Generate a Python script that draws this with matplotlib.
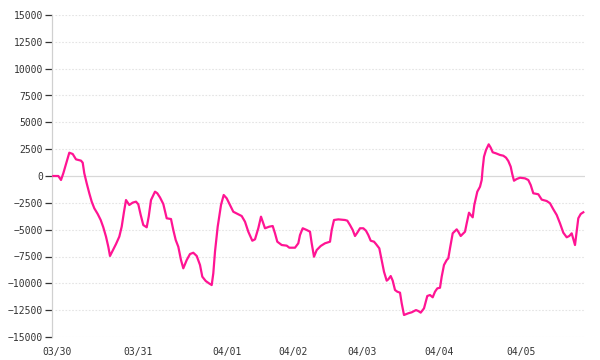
import matplotlib
matplotlib.use("Agg")
import matplotlib.pyplot as plt

# position along the series (sample offset) and value
t = [0.3, 5.3, 8, 10.3, 13.7, 16.3, 19.7, 23, 28, 29.7, 31.3, 33.7, 36.3, 38.7, 41.3, 44.7,
     47.7, 50.3, 53, 55.3, 57, 59.7, 63, 66.3, 68.7, 71, 73, 76.3, 79.7, 83, 85.3, 87.7,
     90.3, 93.7, 95.7, 98, 102, 104.3, 107, 110.3, 113.7, 118, 120.3, 122.7, 125.3, 128,
     130.3, 133.7, 137, 140.3, 143.7, 147, 149.3, 152.7, 156, 158.7, 160.3, 162, 164.7,
     168, 170.7, 173.7, 177, 180.3, 184.7, 188.7, 192, 195.3, 199.3, 202, 205.3, 208,
     212, 216.3, 219.7, 222, 224.3, 228.7, 233.7, 236.3, 242, 245.3, 247, 249.7, 253.7,
     257, 258.7, 261, 263.7, 267.7, 272, 277, 278.7, 281, 285.3, 292, 294.3, 297, 299.7,
     302, 304.3, 307, 310.3, 313, 315.3, 317.7, 321, 323, 326.3, 328.7, 331, 333.7, 335.3,
     337.7, 339.7, 342, 344.3, 347, 348.7, 351, 355.3, 358.7, 363, 365.3, 367.7, 371,
     374.3, 377, 379.7, 382, 384.3, 387, 388.7, 391, 393.7, 395.3, 397, 399.7, 403.7,
     405.3, 407.7, 412, 413.7, 416, 417.7, 419.7, 421.3, 424.3, 427, 428.7, 429.7, 431,
     433, 435.7, 437.7, 439.7, 443, 447, 450.3, 453, 455.3, 457.7, 459.3, 461, 463.7, 467,
     472, 475.3, 477.7, 480.3, 485.3, 488.7, 493.7, 497, 500.3, 503.7, 507, 510.3, 513.7,
     516.3, 518.7, 522, 525.3, 527.7, 530.3]
values = [0, 0, -370, 250, 1330, 2170, 2050, 1550, 1430, 1240, 250, -680, -1610, -2390,
          -3010, -3540, -4100, -4780, -5650, -6590, -7450, -6960, -6340, -5650, -4720,
          -3330, -2240, -2700, -2480, -2390, -2640, -3630, -4570, -4780, -3790, -2240,
          -1460, -1610, -2000, -2610, -3940, -4010, -5030, -5960, -6590, -7830, -8600,
          -7830, -7270, -7150, -7450, -8290, -9380, -9780, -10000, -10160, -9070, -7050,
          -4720, -2700, -1770, -2080, -2700, -3330, -3540, -3730, -4260, -5190, -6030,
          -5900, -4870, -3790, -4870, -4720, -4660, -5340, -6120, -6430, -6490, -6680,
          -6680, -6270, -5500, -4870, -5030, -5190, -6270, -7520, -6900, -6520, -6270,
          -6120, -5030, -4100, -4040, -4100, -4160, -4570, -5030, -5590, -5280, -4870,
          -4870, -5100, -5500, -6030, -6120, -6340, -6740, -7830, -8920, -9750, -9630,
          -9320, -9750, -10620, -10780, -10870, -11860, -12950, -12790, -12700, -12490,
          -12580, -12730, -12330, -11180, -11090, -11300, -10780, -10470, -10410, -9380,
          -8290, -7830, -7670, -6740, -5340, -4970, -5190, -5590, -5190, -4410, -3420,
          -3630, -3850, -2700, -1460, -1000, -373, 720, 1800, 2420, 2950, 2640, 2210,
          2110, 1960, 1890, 1710, 1400, 870, 160, -440, -280, -160, -220, -373, -840,
          -1610, -1700, -2200, -2330, -2540, -3100, -3630, -4410, -5280, -5710, -5590,
          -5340, -6430, -3940, -3540, -3380]

tick_pos = [4.5, 85, 174, 240, 309.5, 386.5, 468]
tick_labels = ["03/30", "03/31", "04/01", "04/02", "04/03", "04/04", "04/05"]
y_ticks = [15000, 12500, 10000, 7500, 5000, 2500, 0, -2500, -5000, -7500, -10000, -12500, -15000]

W, H = 600, 360
fig = plt.figure(figsize=(W / 100, H / 100), dpi=100)
ax = fig.add_axes([52 / W, 1 - 337 / H, (585 - 52) / W, (337 - 15) / H])

ax.set_xlim(-1, 532)
ax.set_ylim(-15000, 15000)

for yv in y_ticks:
    if yv != 0:
        ax.axhline(yv, xmin=0.005, xmax=1.0, color="#e4e4e4", lw=0.8,
                   linestyle=(0, (1.5, 1.5)), zorder=1)
ax.axhline(0, color="#d8d8d8", lw=0.9, zorder=1)

ax.plot(t, values, color="#ff1493", lw=1.6, zorder=3, solid_joinstyle="round")

for s in ["top", "right", "bottom"]:
    ax.spines[s].set_visible(False)
ax.spines["left"].set_color("#d0d0d0")
ax.spines["left"].set_linewidth(0.9)

font = {"family": "DejaVu Sans Mono", "size": 7, "color": "#333333"}
ax.set_yticks(y_ticks)
ax.set_yticklabels([str(v).replace("-", "\u2212") for v in y_ticks], fontdict=font)
ax.set_xticks(tick_pos)
ax.set_xticklabels(tick_labels, fontdict=font)
ax.tick_params(axis="y", length=5, width=0.9, color="#333333", pad=1.5)
ax.tick_params(axis="x", length=0, pad=7)

fig.savefig("out.png", dpi=100)
